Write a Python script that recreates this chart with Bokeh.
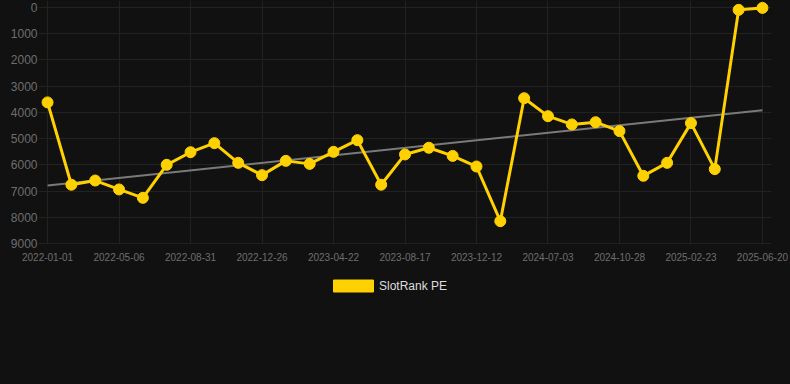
from bokeh.plotting import figure
from bokeh.layouts import column
from bokeh.models import Range1d, FixedTicker, Legend, LegendItem
from bokeh.embed import file_html
from bokeh.resources import INLINE

# ---- data ----
dates = [
    "2022-01-01", "2022-02-12", "2022-03-25", "2022-05-06", "2022-06-15",
    "2022-07-23", "2022-08-31", "2022-10-09", "2022-11-17", "2022-12-26",
    "2023-02-03", "2023-03-14", "2023-04-22", "2023-05-31", "2023-07-09",
    "2023-08-17", "2023-09-25", "2023-11-03", "2023-12-12", "2024-02-18",
    "2024-04-26", "2024-07-03", "2024-08-10", "2024-09-19", "2024-10-28",
    "2024-12-06", "2025-01-15", "2025-02-23", "2025-04-02", "2025-05-11",
    "2025-06-20",
]
slotrank_pe = [
    3620, 6760, 6600, 6940, 7260, 6000, 5520, 5175, 5925, 6395,
    5850, 5965, 5505, 5060, 6760, 5605, 5350, 5660, 6065, 8150,
    3460, 4145, 4460, 4375, 4715, 6420, 5925, 4410, 6165, 90,
    15,
]
trend_start = 6790
trend_end = 3920
y_ticks = [0, 1000, 2000, 3000, 4000, 5000, 6000, 7000, 8000, 9000]
label_every = 3
series_name = "SlotRank PE"

YELLOW = "#FFD100"
BG = "#111111"
GRID = "#222222"
TICK_TXT = "#6e6e6e"

x = list(range(len(dates)))
n = len(dates)

p = figure(
    frame_width=733, frame_height=244,
    output_backend="svg", toolbar_location=None,
    x_range=Range1d(-0.38, n - 1 + 0.38),
    y_range=Range1d(9040, -267),
    background_fill_color=BG, border_fill_color=BG,
    min_border_left=38, min_border_right=19,
    min_border_top=0, min_border_bottom=26,
)
p.outline_line_color = None

label_ticks = x[::label_every]

# grids
p.xgrid.ticker = FixedTicker(ticks=label_ticks)
p.ygrid.ticker = FixedTicker(ticks=y_ticks)
for g in (p.xgrid, p.ygrid):
    g.grid_line_color = GRID
    g.grid_line_width = 1

# axes
p.xaxis.ticker = FixedTicker(ticks=label_ticks)
p.xaxis.major_label_overrides = {i: dates[i] for i in label_ticks}
p.yaxis.ticker = FixedTicker(ticks=y_ticks)
for ax in (p.xaxis, p.yaxis):
    ax.axis_line_color = None
    ax.major_tick_line_color = None
    ax.minor_tick_line_color = None
    ax.major_tick_in = 0
    ax.major_tick_out = 0
    ax.major_label_text_color = TICK_TXT
    ax.major_label_text_font = "Liberation Sans"
p.xaxis.major_label_text_font_size = "10px"
p.xaxis.major_label_standoff = 8
p.yaxis.major_label_text_font_size = "12px"
p.yaxis.major_label_standoff = 1

# trend line
p.line([x[0], x[-1]], [trend_start, trend_end], line_color="#7a7a7a", line_width=2)

# series
p.line(x, slotrank_pe, line_color=YELLOW, line_width=3)
p.scatter(x, slotrank_pe, size=11, fill_color=YELLOW, line_color=YELLOW, line_width=1)

# ---- legend strip below the chart ----
leg = figure(
    width=790, height=60,
    output_backend="svg", toolbar_location=None,
    x_range=Range1d(0, 1), y_range=Range1d(0, 1),
    x_axis_type=None, y_axis_type=None,
    background_fill_color=BG, border_fill_color=BG,
    min_border=0,
)
leg.outline_line_color = None
leg.xgrid.visible = False
leg.ygrid.visible = False
nan = float("nan")
proxy = leg.quad(left=[nan], right=[nan], top=[nan], bottom=[nan],
                 fill_color=YELLOW, line_color=YELLOW)
legend = Legend(
    items=[LegendItem(label=series_name, renderers=[proxy])],
    orientation="horizontal", location=(290, 37),
    glyph_width=50, glyph_height=15, label_height=15,
    label_standoff=1,
    label_text_color="#dddddd", label_text_font="Liberation Sans",
    label_text_font_size="12px",
    background_fill_alpha=0, border_line_color=None,
    padding=0, margin=0,
)
leg.add_layout(legend, "center")

layout = column(p, leg, spacing=0)

template = """{% block postamble %}<style>html, body { background-color: #111111; }</style>{% endblock %}"""
open("out.html", "w").write(file_html(layout, INLINE, template=template))
